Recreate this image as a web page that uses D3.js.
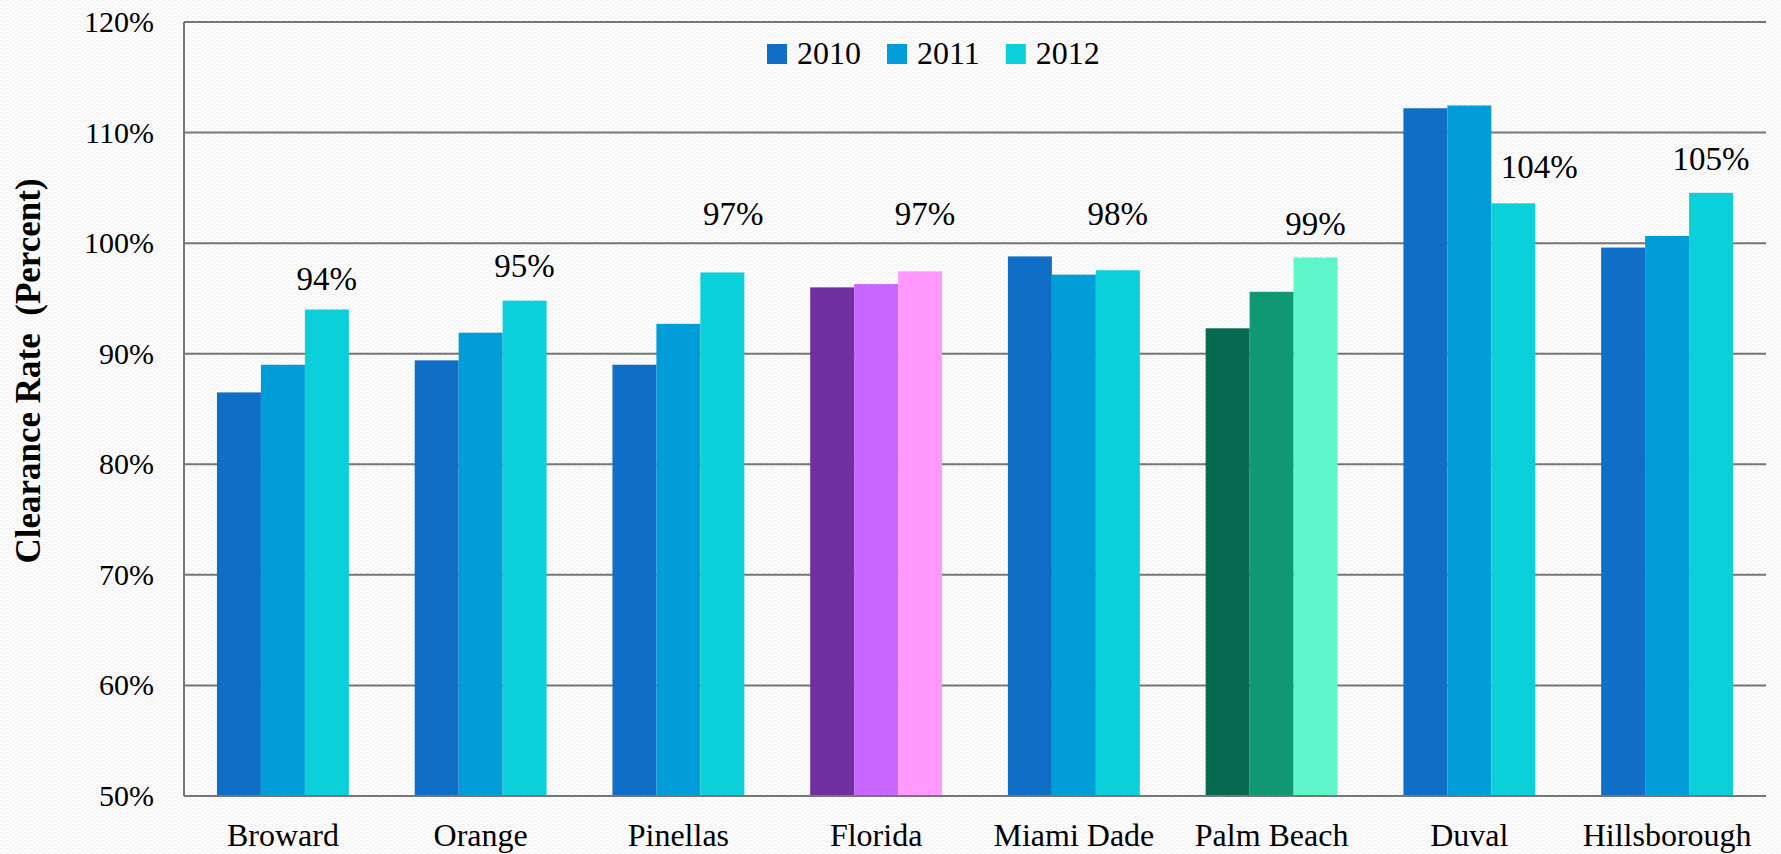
<!DOCTYPE html>
<html lang="en">

<head>
    <meta charset="UTF-8">
    <title>Clearance Rate by County</title>
    <script src="https://d3js.org/d3.v7.min.js" charset="utf-8"></script>
    <style>
        body { margin: 0; background: #fbfbfb; }
        text { font-family: "Liberation Serif", "DejaVu Serif", serif; fill: #000; }
    </style>
</head>

<body>

    <div id="graph"></div>

    <script>
        // chart data
        const counties = ["Broward", "Orange", "Pinellas", "Florida", "Miami Dade", "Palm Beach", "Duval", "Hillsborough"];
        const years = ["2010", "2011", "2012"];
        const rate2010 = [86.5, 89.4, 89.0, 96.0, 98.8, 92.3, 112.2, 99.6];
        const rate2011 = [89.0, 91.9, 92.7, 96.3, 97.15, 95.6, 112.45, 100.65];
        const rate2012 = [94.0, 94.8, 97.35, 97.45, 97.55, 98.7, 103.6, 104.55];
        const labels2012 = ["94%", "95%", "97%", "97%", "98%", "99%", "104%", "105%"];
        // value level where each 2012 label sits
        const labelAt = [95.8, 96.9, 101.6, 101.6, 101.6, 100.7, 105.9, 106.6];
        const yTicks = [50, 60, 70, 80, 90, 100, 110, 120];

        // colours: default palette, plus the two highlighted groups
        const palette = {
            "default": ["#0f6fc6", "#009dd9", "#0bd0d9"],
            "Florida": ["#7030a0", "#c966ff", "#ff99ff"],
            "Palm Beach": ["#07694f", "#0f9873", "#5ef5c8"]
        };
        // small horizontal shifts of a few labels, in px
        const labelNudge = { "Pinellas": 11, "Florida": 5, "Duval": 26 };

        const width = 1781, height = 854;
        const margin = { top: 22, right: 15, bottom: 58, left: 184 };

        const rows = counties.map((c, i) => ({
            county: c,
            values: [rate2010[i], rate2011[i], rate2012[i]],
            label: labels2012[i],
            labelAt: labelAt[i]
        }));

        const svg = d3.select("#graph")
            .append("svg")
            .attr("width", width)
            .attr("height", height);

        // faint textured background
        const defs = svg.append("defs");
        const pat = defs.append("pattern")
            .attr("id", "bgtex")
            .attr("width", 6)
            .attr("height", 4)
            .attr("patternUnits", "userSpaceOnUse");
        pat.append("rect").attr("width", 6).attr("height", 4).attr("fill", "#fcfcfc");
        pat.append("rect").attr("x", 0).attr("y", 0).attr("width", 3).attr("height", 1).attr("fill", "#f1f1f1");
        pat.append("rect").attr("x", 3).attr("y", 2).attr("width", 3).attr("height", 1).attr("fill", "#f1f1f1");

        svg.append("rect")
            .attr("width", width)
            .attr("height", height)
            .attr("fill", "url(#bgtex)");

        const x0 = d3.scaleBand()
            .domain(counties)
            .range([margin.left, width - margin.right])
            .paddingInner(0.333)
            .paddingOuter(0.1667);

        const x1 = d3.scaleBand()
            .domain(years)
            .range([0, x0.bandwidth()]);

        const y = d3.scaleLinear()
            .domain([50, 120])
            .range([height - margin.bottom, margin.top]);

        // gridlines (behind bars)
        svg.append("g")
            .selectAll("line")
            .data(yTicks)
            .enter()
            .append("line")
            .attr("x1", margin.left)
            .attr("x2", width - margin.right)
            .attr("y1", d => y(d))
            .attr("y2", d => y(d))
            .attr("stroke", "#767676")
            .attr("stroke-width", 2);

        // left axis line
        svg.append("line")
            .attr("x1", margin.left)
            .attr("x2", margin.left)
            .attr("y1", y(120))
            .attr("y2", y(50))
            .attr("stroke", "#767676")
            .attr("stroke-width", 2);

        // y tick labels
        svg.append("g")
            .selectAll("text")
            .data(yTicks)
            .enter()
            .append("text")
            .attr("x", margin.left - 30)
            .attr("y", d => y(d) + 10)
            .attr("text-anchor", "end")
            .style("font-size", "30px")
            .text(d => d + "%");

        // bars
        const groups = svg.append("g")
            .selectAll("g")
            .data(rows)
            .enter()
            .append("g")
            .attr("transform", d => `translate(${x0(d.county)},0)`);

        groups.selectAll("rect")
            .data(d => d.values.map((v, j) => ({ county: d.county, year: years[j], value: v, j: j })))
            .enter()
            .append("rect")
            .attr("x", d => x1(d.year))
            .attr("y", d => y(d.value))
            .attr("width", x1.bandwidth())
            .attr("height", d => y(50) - y(d.value))
            .attr("fill", d => (palette[d.county] || palette["default"])[d.j]);

        // bottom axis line drawn over bars
        svg.append("line")
            .attr("x1", margin.left)
            .attr("x2", width - margin.right)
            .attr("y1", y(50))
            .attr("y2", y(50))
            .attr("stroke", "#767676")
            .attr("stroke-width", 2);

        // 2012 value labels
        groups.append("text")
            .attr("x", d => x1("2012") + x1.bandwidth() / 2 + (labelNudge[d.county] || 0))
            .attr("y", d => y(d.labelAt))
            .attr("text-anchor", "middle")
            .style("font-size", "33px")
            .text(d => d.label);

        // category labels
        svg.append("g")
            .selectAll("text")
            .data(counties)
            .enter()
            .append("text")
            .attr("x", d => x0(d) + x0.bandwidth() / 2)
            .attr("y", height - 8)
            .attr("text-anchor", "middle")
            .style("font-size", "32px")
            .text(d => d);

        // y axis title
        svg.append("text")
            .attr("transform", `translate(40,${(y(120) + y(50)) / 2 - 38}) rotate(-90)`)
            .attr("text-anchor", "middle")
            .style("font-size", "35px")
            .style("font-weight", "bold")
            .attr("xml:space", "preserve")
            .text("Clearance Rate  (Percent)");

        // legend
        const legend = svg.append("g").attr("transform", "translate(767,44)");
        let lx = 0;
        years.forEach((yr, j) => {
            const item = legend.append("g").attr("transform", `translate(${lx},0)`);
            item.append("rect")
                .attr("width", 20)
                .attr("height", 20)
                .attr("fill", palette["default"][j]);
            const t = item.append("text")
                .attr("x", 30)
                .attr("y", 20)
                .style("font-size", "32px")
                .text(yr);
            lx += 30 + t.node().getComputedTextLength() + 26;
        });
    </script>

</body>

</html>
